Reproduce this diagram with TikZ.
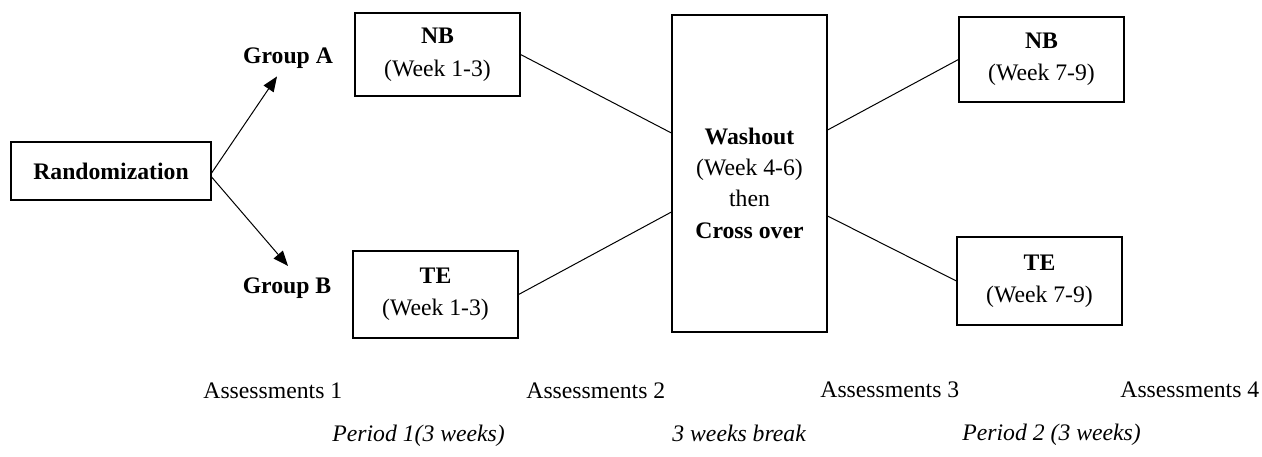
\documentclass[tikz,border=0pt]{standalone}
\usepackage{fontspec}
\setmainfont{Liberation Serif}
\usetikzlibrary{arrows.meta}
\newcommand{\dn}[1]{\raisebox{-1pt}{#1}}
\begin{document}
\begin{tikzpicture}[x=0.5pt,y=-0.5pt,
  every node/.style={font=\fontsize{11.85}{16}\selectfont},
  box/.style={draw, line width=0.6pt, inner sep=0pt, align=center, minimum width=82.5pt},
  lbl/.style={inner sep=0pt, font=\fontsize{11.85}{16}\selectfont\bfseries},
  plain/.style={inner sep=0pt, anchor=base west},
  ital/.style={inner sep=0pt, anchor=base west, font=\fontsize{11.85}{16}\selectfont\itshape},
  conn/.style={line width=0.5pt},
  arr/.style={line width=0.5pt, -{Triangle[length=7.5pt,width=6pt]}}]
\useasboundingbox (0,0) rectangle (1262,456);
% boxes
\node[box, minimum width=100pt, minimum height=29pt, font=\fontsize{11.85}{16}\selectfont\bfseries] (rand) at (111,171) {Randomization};
\node[box, minimum height=41.5pt, font=\fontsize{11.85}{16.5}\selectfont] (nb1) at (437.5,54.5) {\dn{\textbf{NB}}\\\dn{(Week 1-3)}};
\node[box, minimum height=43.5pt] (te1) at (435.5,294.5) {\textbf{TE}\\(Week 1-3)};
\node[box, minimum width=77.5pt, minimum height=158.5pt] (wash) at (749.5,173.5) {};
\node[inner sep=0pt, align=center, font=\fontsize{11.85}{15.7}\selectfont] (washlbl) at (749.5,183) {\textbf{Washout}\\(Week 4-6)\\then\\\textbf{Cross over}};
\node[box, minimum height=42.5pt] (nb2) at (1041.5,59.5) {\dn{\textbf{NB}}\\\dn{(Week 7-9)}};
\node[box, minimum height=44pt] (te2) at (1039.5,281) {\textbf{TE}\\(Week 7-9)};
% group labels
\node[lbl, anchor=base] (ga) at (288,63) {Group A};
\node[lbl, anchor=base] (gb) at (287,293) {Group B};
% arrows
\draw[arr] ([yshift=-1pt]rand.east) -- ([xshift=-5.5pt,yshift=-4pt]ga.south);
\draw[arr] ([yshift=-3pt]rand.east) -- ([xshift=0.5pt,yshift=5.5pt]gb.north);
% connectors
\draw[conn] (nb1.east) -- ([yshift=20.25pt]wash.west);
\draw[conn] (te1.east) -- ([yshift=-19.25pt]wash.west);
\draw[conn] ([yshift=21.75pt]wash.east) -- (nb2.west);
\draw[conn] ([yshift=-21.25pt]wash.east) -- (te2.west);
% bottom labels
\node[plain] (as1) at (203,398) {Assessments 1};
\node[plain] (as2) at (526,398) {Assessments 2};
\node[plain] (as3) at (820,397) {Assessments 3};
\node[plain] (as4) at (1120,397) {Assessments 4};
\node[ital] (p1) at (332,441) {Period 1(3 weeks)};
\node[ital] (brk) at (672,441) {3 weeks break};
\node[ital] (p2) at (962,440) {Period 2 (3 weeks)};
\end{tikzpicture}
\end{document}
